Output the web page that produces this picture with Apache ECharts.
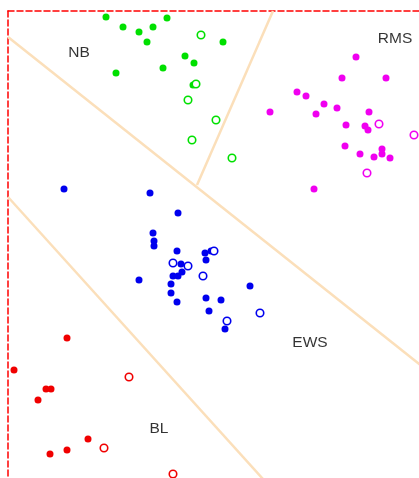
<!DOCTYPE html>
<html>
<head>
<meta charset="utf-8">
<script src="https://cdn.jsdelivr.net/npm/echarts@6/dist/echarts.min.js"></script>
<style>
  html, body { margin: 0; padding: 0; background: #fff; }
  #chart { width: 419px; height: 478px; }
</style>
</head>
<body>
<div id="chart"></div>
<script>
// Projection scores per tumour class (x, y); filled = training, open = test
const nbTrain = [[98,6],[115,16],[131,21],[145,16],[159,7],[139,31],[177,45],[186,52],[108,62],[155,57],[185,74],[215,31]];
const nbTest = [[193,24],[188,73],[180,89],[184,129],[208,109],[224,147]];

const rmsTrain = [[348,46],[334,67],[378,67],[289,81],[298,85],[262,101],[316,93],[329,97],[308,103],[361,101],[338,114],[357,115],[360,119],[337,135],[352,143],[366,146],[374,138],[374,143],[382,147],[306,178]];
const rmsTest = [[371,113],[406,124],[359,162]];

const ewsTrain = [[56,178],[142,182],[170,202],[145,222],[146,230],[146,235],[169,240],[197,242],[203,240],[198,249],[173,253],[174,261],[170,265],[165,265],[131,269],[163,273],[163,282],[169,291],[198,287],[213,289],[201,300],[242,275],[217,318]];
const ewsTest = [[165,252],[180,255],[206,240],[195,265],[219,310],[252,302]];

const blTrain = [[59,327],[6,359],[38,378],[43,378],[30,389],[80,428],[59,439],[42,443]];
const blTest = [[121,366],[96,437],[165,463]];

// Decision boundaries between the class regions
const boundaryA = [[0,26],[420,360]];
const boundaryB = [[189,174],[265,0]];
const boundaryC = [[0,186],[264,478]];

// Region names and where they sit
const regionLabels = [
  { name: 'NB', value: [71,42] },
  { name: 'RMS', value: [387,28] },
  { name: 'EWS', value: [302,332] },
  { name: 'BL', value: [151,418] }
];

const colors = { NB: '#00e000', RMS: '#f000f0', EWS: '#0000ee', BL: '#f00000' };
const boundaryColor = '#fbdfba';

function filled(data, color) {
  return {
    type: 'scatter', data: data, symbol: 'circle', symbolSize: 7,
    itemStyle: { color: color, borderWidth: 0, opacity: 1 }, z: 5, silent: true
  };
}
function hollow(data, color) {
  return {
    type: 'scatter', data: data, symbol: 'circle', symbolSize: 7.5,
    itemStyle: { color: '#fff', borderColor: color, borderWidth: 1.6, opacity: 1 }, z: 6, silent: true
  };
}
function boundary(data) {
  return {
    type: 'line', data: data, symbol: 'none', silent: true, z: 2, clip: true,
    lineStyle: { color: boundaryColor, width: 2.5 }
  };
}

const chart = echarts.init(document.getElementById('chart'));
chart.setOption({
  animation: false,
  backgroundColor: '#fff',
  grid: { left: 8, top: 11, right: 0, bottom: 0, containLabel: false, outerBoundsMode: 'none' },
  xAxis: {
    type: 'value', min: 0, max: 411, position: 'top',
    axisLine: { show: true, lineStyle: { color: '#ff0000', width: 1.5, type: [6, 3] } },
    axisTick: { show: false }, axisLabel: { show: false }, splitLine: { show: false }
  },
  yAxis: {
    type: 'value', min: 0, max: 467, inverse: true,
    axisLine: { show: true, lineStyle: { color: '#ff0000', width: 1.5, type: [6, 3] } },
    axisTick: { show: false }, axisLabel: { show: false }, splitLine: { show: false }
  },
  series: [
    boundary(boundaryA),
    boundary(boundaryB),
    boundary(boundaryC),
    filled(nbTrain, colors.NB), hollow(nbTest, colors.NB),
    filled(rmsTrain, colors.RMS), hollow(rmsTest, colors.RMS),
    filled(ewsTrain, colors.EWS), hollow(ewsTest, colors.EWS),
    filled(blTrain, colors.BL), hollow(blTest, colors.BL),
    {
      type: 'scatter', data: regionLabels, symbolSize: 0, silent: true, z: 7,
      label: {
        show: true, position: 'inside', formatter: '{b}',
        fontFamily: 'Liberation Sans, Arial, sans-serif', fontSize: 15.5, color: '#000'
      }
    }
  ]
});
</script>
</body>
</html>
